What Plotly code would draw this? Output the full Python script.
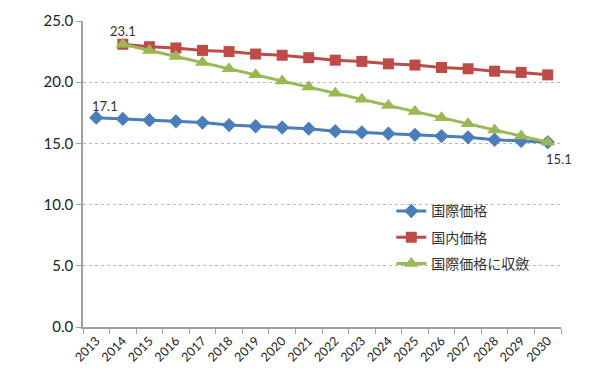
import plotly.graph_objects as go

years = [str(y) for y in range(2013, 2031)]
intl_price = [17.1, 17.0, 16.9, 16.8, 16.7, 16.5, 16.4, 16.3, 16.2, 16.0, 15.9, 15.8, 15.7, 15.6, 15.5, 15.3, 15.2, 15.1]
dom_years = years[1:]
dom_price = [23.1, 22.9, 22.8, 22.6, 22.5, 22.3, 22.2, 22.0, 21.8, 21.7, 21.5, 21.4, 21.2, 21.1, 20.9, 20.8, 20.6]
conv_price = [23.1, 22.6, 22.1, 21.6, 21.1, 20.6, 20.1, 19.6, 19.1, 18.6, 18.1, 17.6, 17.1, 16.6, 16.1, 15.6, 15.1]
series_names = ["国際価格", "国内価格", "国際価格に収斂"]

lab_font = dict(family="Lato, Noto Sans", size=13, color="#333333")

fig = go.Figure()
fig.add_trace(go.Scatter(
    x=years, y=intl_price, name=series_names[0], legendgroup="a",
    mode="lines+markers",
    line=dict(color="#4A7EBB", width=3),
    marker=dict(symbol="diamond", size=11, color="#4A7EBB"),
    cliponaxis=False,
))
fig.add_trace(go.Scatter(
    x=dom_years, y=dom_price, name=series_names[1], legendgroup="b",
    mode="lines+markers",
    line=dict(color="#BE4B48", width=3),
    marker=dict(symbol="square", size=11, color="#BE4B48"),
    cliponaxis=False,
))
fig.add_trace(go.Scatter(
    x=dom_years, y=conv_price, name=series_names[2], legendgroup="c",
    mode="lines+markers",
    line=dict(color="#98B954", width=3),
    marker=dict(symbol="triangle-up", size=13, color="#98B954"),
    cliponaxis=False,
))

# data labels (category axis: position by category index)
def cat_index(label):
    return years.index(label)

fig.add_annotation(x=cat_index(years[0]), y=intl_price[0], text=f"{intl_price[0]:.1f}",
                   showarrow=False, xshift=9, yshift=12, font=lab_font)
fig.add_annotation(x=cat_index(dom_years[0]), y=dom_price[0], text=f"{dom_price[0]:.1f}",
                   showarrow=False, xshift=0, yshift=13, font=lab_font)
fig.add_annotation(x=cat_index(dom_years[-1]), y=conv_price[-1], text=f"{conv_price[-1]:.1f}",
                   showarrow=False, xshift=11, yshift=-17, font=lab_font)

fig.update_layout(
    width=595, height=378,
    margin=dict(l=75, r=42, t=13, b=59),
    paper_bgcolor="white", plot_bgcolor="white",
    font=dict(family="Lato, Noto Sans CJK JP", size=14, color="#222222"),
    legend=dict(
        x=0.645, y=0.43, xanchor="left", yanchor="top",
        bgcolor="rgba(255,255,255,0)",
        font=dict(family="Noto Sans CJK JP", size=14, color="#333333"),
        tracegroupgap=5, itemwidth=30,
    ),
    showlegend=True,
)
fig.update_xaxes(
    type="category", categoryorder="array", categoryarray=years,
    range=[-0.5, len(years) - 0.5],
    tickson="boundaries", ticks="outside", ticklen=5, tickcolor="#A0A0A0",
    showline=True, linecolor="#A0A0A0", linewidth=1.5,
    showgrid=False, tickangle=-45,
    tickfont=dict(family="Lato", size=12.5, color="#222222"),
    automargin=False,
)
fig.update_yaxes(
    range=[0, 25], dtick=5, tickformat=".1f",
    ticks="outside", ticklen=5, tickcolor="#A0A0A0",
    showline=True, linecolor="#A0A0A0", linewidth=1.5,
    showgrid=True, gridcolor="#B8B8B8", griddash="dot", gridwidth=1,
    zeroline=False,
    tickfont=dict(family="Lato", size=15, color="#222222"),
    automargin=False,
)

fig.write_html("out.html")
